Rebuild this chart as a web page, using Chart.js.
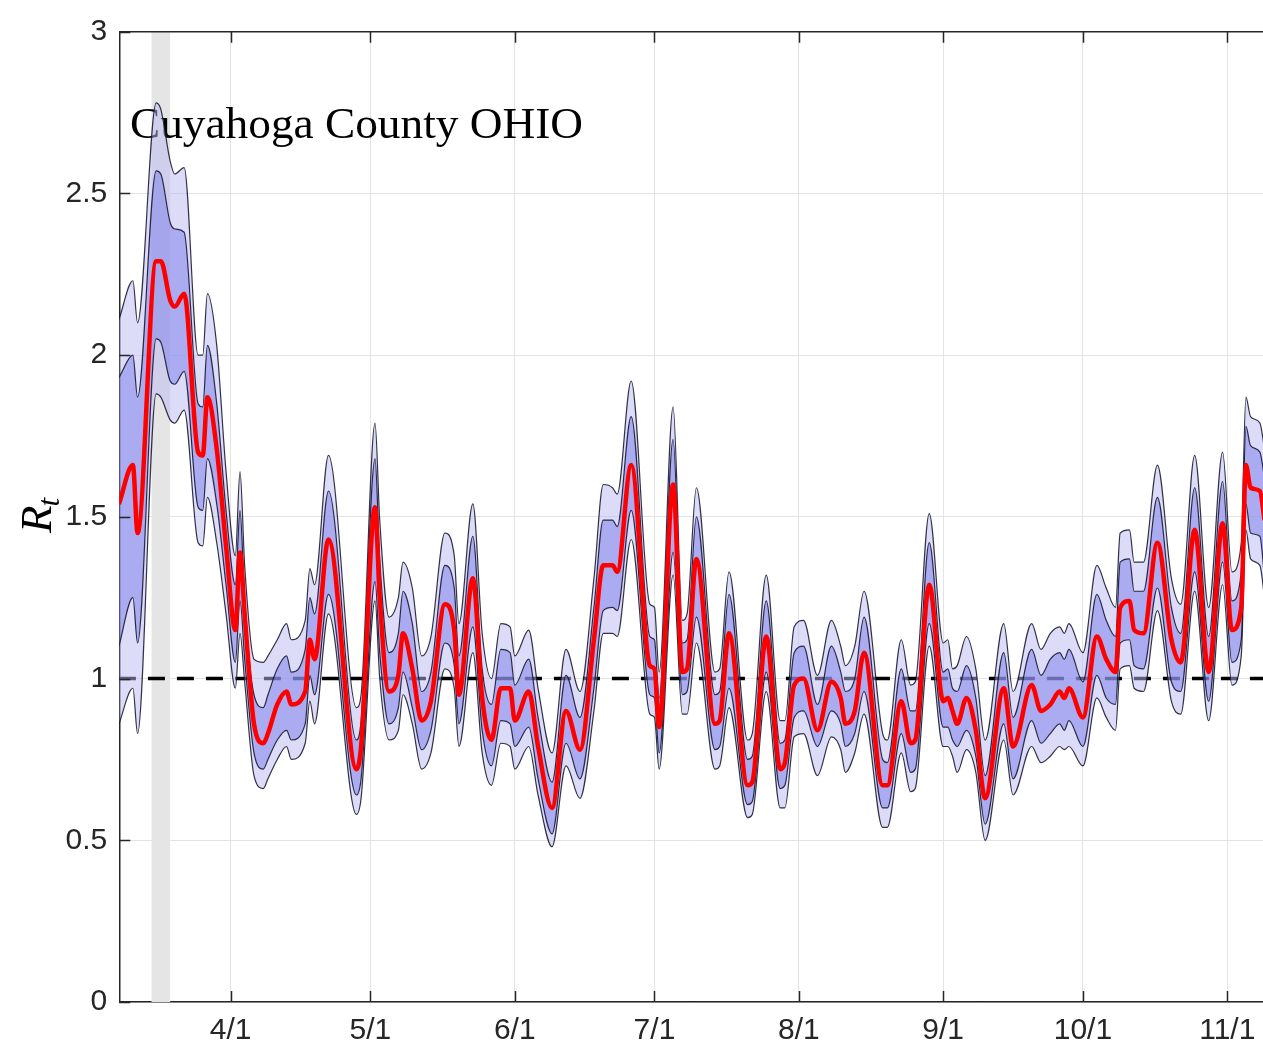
<!DOCTYPE html>
<html>
<head>
<meta charset="utf-8">
<script src="https://cdn.jsdelivr.net/npm/chart.js@4.4.0/dist/chart.umd.min.js"></script>
<style>
  html, body { margin: 0; padding: 0; background: #ffffff; }
  #wrap { width: 1263px; height: 1048px; }
</style>
</head>
<body>
<div id="wrap"><canvas id="rt" width="1263" height="1048"></canvas></div>
<script>
// Rt estimate, Cuyahoga County (2020)
var dates = [
  "3/8", "3/11", "3/12", "3/16", "3/17", "3/19", "3/20", "3/22", "3/25", "3/26", "3/27", "3/29", "3/31",
  "4/2", "4/3", "4/4", "4/6", "4/8", "4/9", "4/11", "4/13", "4/14", "4/17", "4/18", "4/19", "4/22", "4/28", "4/29",
  "5/2", "5/3", "5/5", "5/7", "5/8", "5/10", "5/12", "5/14", "5/17", "5/19", "5/20", "5/23", "5/25", "5/27", "5/29", "5/31",
  "6/1", "6/4", "6/6", "6/9", "6/12", "6/15", "6/18", "6/20", "6/22", "6/23", "6/26", "6/30",
  "7/1", "7/2", "7/5", "7/7", "7/8", "7/10", "7/14", "7/15", "7/17", "7/21", "7/22", "7/25", "7/28", "7/29", "7/31",
  "8/2", "8/5", "8/8", "8/10", "8/11", "8/13", "8/15", "8/19", "8/20", "8/23", "8/25", "8/26", "8/29",
  "9/1", "9/2", "9/3", "9/4", "9/6", "9/8", "9/10", "9/14", "9/16", "9/20", "9/22", "9/24", "9/26", "9/27", "9/28",
  "10/1", "10/4", "10/6", "10/8", "10/9", "10/11", "10/12", "10/14", "10/17", "10/20", "10/22", "10/25", "10/28", "10/31",
  "11/2", "11/4", "11/5", "11/6", "11/8", "11/9"
];

var rtMedian = [
  1.54, 1.66, 1.45, 2.29, 2.29, 2.17, 2.15, 2.19, 1.70, 1.69, 1.87, 1.71, 1.41,
  1.15, 1.39, 1.20, 0.86, 0.80, 0.83, 0.92, 0.96, 0.92, 0.96, 1.12, 1.06, 1.43, 0.72, 0.79,
  1.53, 1.25, 0.96, 1.01, 1.14, 1.03, 0.87, 0.93, 1.23, 1.15, 0.95, 1.31, 0.94, 0.81, 0.97, 0.97,
  0.87, 0.96, 0.79, 0.60, 0.90, 0.78, 1.12, 1.35, 1.35, 1.33, 1.66, 1.04,
  1.03, 0.85, 1.60, 1.02, 1.03, 1.37, 0.86, 0.87, 1.14, 0.67, 0.68, 1.13, 0.72, 0.74, 0.98,
  1.00, 0.84, 0.99, 0.94, 0.86, 0.90, 1.08, 0.67, 0.67, 0.93, 0.80, 0.81, 1.29,
  0.93, 0.94, 0.90, 0.86, 0.94, 0.84, 0.63, 0.97, 0.79, 0.98, 0.90, 0.92, 0.96, 0.94, 0.97,
  0.88, 1.13, 1.06, 1.02, 1.22, 1.24, 1.15, 1.14, 1.42, 1.12, 1.05, 1.46, 1.02, 1.48,
  1.15, 1.22, 1.66, 1.59, 1.58, 1.49
];

var rtHigh95 = [
  2.11, 2.23, 2.10, 2.78, 2.76, 2.60, 2.56, 2.58, 2.00, 2.00, 2.19, 2.03, 1.64,
  1.38, 1.64, 1.35, 1.06, 1.05, 1.07, 1.12, 1.17, 1.12, 1.18, 1.34, 1.29, 1.69, 0.91, 0.95,
  1.79, 1.49, 1.19, 1.25, 1.36, 1.28, 1.07, 1.13, 1.45, 1.38, 1.17, 1.54, 1.14, 1.00, 1.17, 1.16,
  1.07, 1.15, 0.97, 0.77, 1.09, 0.96, 1.31, 1.60, 1.59, 1.57, 1.92, 1.23,
  1.22, 1.02, 1.84, 1.18, 1.20, 1.59, 1.02, 1.03, 1.33, 0.81, 0.83, 1.32, 0.87, 0.87, 1.16,
  1.18, 1.01, 1.18, 1.10, 1.04, 1.10, 1.27, 0.83, 0.81, 1.12, 0.98, 0.99, 1.51,
  1.11, 1.12, 1.03, 1.04, 1.13, 1.03, 0.81, 1.17, 0.96, 1.17, 1.09, 1.14, 1.16, 1.14, 1.17,
  1.08, 1.35, 1.28, 1.22, 1.45, 1.46, 1.36, 1.36, 1.66, 1.31, 1.23, 1.69, 1.22, 1.70,
  1.33, 1.42, 1.87, 1.81, 1.79, 1.71
];

var rtHigh50 = [
  1.93, 2.00, 1.87, 2.57, 2.56, 2.41, 2.39, 2.38, 1.85, 1.84, 2.03, 1.85, 1.52,
  1.29, 1.52, 1.24, 0.95, 0.91, 0.95, 1.03, 1.07, 1.02, 1.09, 1.25, 1.20, 1.58, 0.81, 0.87,
  1.68, 1.37, 1.08, 1.14, 1.27, 1.17, 0.96, 1.02, 1.35, 1.28, 1.07, 1.44, 1.03, 0.92, 1.09, 1.08,
  0.98, 1.06, 0.88, 0.68, 1.01, 0.88, 1.22, 1.49, 1.49, 1.47, 1.81, 1.13,
  1.12, 0.94, 1.74, 1.11, 1.12, 1.50, 0.95, 0.96, 1.26, 0.75, 0.76, 1.24, 0.80, 0.81, 1.08,
  1.10, 0.92, 1.10, 1.02, 0.96, 1.00, 1.19, 0.75, 0.74, 1.03, 0.90, 0.90, 1.42,
  1.02, 1.03, 0.97, 0.96, 1.04, 0.94, 0.70, 1.08, 0.88, 1.09, 1.01, 1.06, 1.08, 1.06, 1.09,
  0.99, 1.26, 1.18, 1.13, 1.36, 1.37, 1.27, 1.27, 1.56, 1.22, 1.14, 1.59, 1.13, 1.61,
  1.24, 1.33, 1.78, 1.72, 1.70, 1.62
];

var rtLow50 = [
  1.10, 1.25, 1.11, 2.05, 2.04, 1.92, 1.91, 1.95, 1.53, 1.52, 1.68, 1.54, 1.29,
  1.05, 1.24, 1.06, 0.77, 0.72, 0.75, 0.81, 0.84, 0.81, 0.86, 1.01, 0.95, 1.26, 0.64, 0.69,
  1.30, 1.08, 0.86, 0.91, 1.02, 0.91, 0.78, 0.84, 1.11, 1.04, 0.86, 1.16, 0.84, 0.73, 0.87, 0.86,
  0.79, 0.85, 0.69, 0.52, 0.80, 0.69, 0.97, 1.21, 1.22, 1.21, 1.52, 0.95,
  0.94, 0.77, 1.39, 0.95, 0.96, 1.19, 0.78, 0.79, 0.97, 0.61, 0.62, 1.02, 0.66, 0.67, 0.88,
  0.90, 0.79, 0.90, 0.86, 0.79, 0.83, 0.96, 0.60, 0.60, 0.83, 0.71, 0.72, 1.17,
  0.85, 0.85, 0.81, 0.79, 0.84, 0.76, 0.55, 0.86, 0.69, 0.87, 0.80, 0.83, 0.86, 0.84, 0.87,
  0.79, 1.01, 0.94, 0.92, 1.11, 1.12, 1.04, 1.03, 1.28, 0.99, 0.96, 1.33, 0.93, 1.36,
  1.05, 1.12, 1.54, 1.45, 1.44, 1.31
];

var rtLow95 = [
  0.86, 0.97, 0.83, 1.88, 1.87, 1.80, 1.79, 1.83, 1.42, 1.41, 1.56, 1.42, 1.20,
  0.97, 1.14, 0.99, 0.70, 0.66, 0.69, 0.75, 0.79, 0.75, 0.80, 0.93, 0.86, 1.20, 0.58, 0.63,
  1.24, 1.00, 0.81, 0.84, 0.95, 0.86, 0.72, 0.77, 1.03, 0.97, 0.79, 1.08, 0.77, 0.67, 0.80, 0.79,
  0.72, 0.79, 0.64, 0.48, 0.73, 0.63, 0.90, 1.14, 1.14, 1.13, 1.43, 0.89,
  0.88, 0.72, 1.32, 0.89, 0.89, 1.11, 0.72, 0.73, 0.91, 0.57, 0.58, 0.96, 0.60, 0.60, 0.82,
  0.83, 0.70, 0.82, 0.78, 0.71, 0.77, 0.89, 0.54, 0.54, 0.77, 0.65, 0.66, 1.10,
  0.79, 0.79, 0.76, 0.71, 0.78, 0.71, 0.50, 0.81, 0.64, 0.79, 0.74, 0.76, 0.79, 0.78, 0.79,
  0.73, 0.94, 0.88, 0.84, 1.03, 1.04, 0.97, 0.96, 1.21, 0.93, 0.89, 1.27, 0.87, 1.29,
  0.98, 1.07, 1.46, 1.37, 1.35, 1.25
];

var refLevel = 1;
var shadeRange = ["3/15", "3/19"];
var xTickDates = ["4/1", "5/1", "6/1", "7/1", "8/1", "9/1", "10/1", "11/1"];
var yTicks = [0, 0.5, 1, 1.5, 2, 2.5, 3];
var yTickLabels = ["0", "0.5", "1", "1.5", "2", "2.5", "3"];
var title = "Cuyahoga County OHIO";

// day of year in 2020 (leap year)
var monthStart = [0, 31, 60, 91, 121, 152, 182, 213, 244, 274, 305, 335];
function dayOfYear(md) {
  var p = md.split("/");
  return monthStart[+p[0] - 1] + (+p[1]);
}

var xs = dates.map(dayOfYear);
var xTickDays = xTickDates.map(dayOfYear);
function pts(vals) {
  return vals.map(function (v, i) { return { x: xs[i], y: v }; });
}

var axisColor = "#262626";
var gridColor = "#e3e3e3";
var edgeColor = "rgba(15,15,40,0.85)";
var tickFont = { family: "'Liberation Sans', Arial, Helvetica, sans-serif", size: 30 };
var serif = "'Liberation Serif', 'Times New Roman', serif";

var decorations = {
  id: "decorations",
  beforeDatasetsDraw: function (chart) {
    var ctx = chart.ctx, a = chart.chartArea, sx = chart.scales.x;
    ctx.save();
    // grey vertical band
    var x0 = sx.getPixelForValue(dayOfYear(shadeRange[0]));
    var x1 = sx.getPixelForValue(dayOfYear(shadeRange[1]));
    ctx.fillStyle = "#e5e5e5";
    ctx.fillRect(x0, a.top, x1 - x0, a.bottom - a.top);
    // county label, fitted to the width it has in the figure
    var size = 44;
    ctx.font = size + "px " + serif;
    var w = ctx.measureText(title).width;
    size = size * 453 / w;
    ctx.font = size.toFixed(1) + "px " + serif;
    ctx.fillStyle = "#000000";
    ctx.textBaseline = "alphabetic";
    ctx.fillText(title, 130, 138);
    ctx.restore();
  },
  afterDraw: function (chart) {
    var ctx = chart.ctx, a = chart.chartArea, sx = chart.scales.x, sy = chart.scales.y;
    ctx.save();
    ctx.strokeStyle = axisColor;
    ctx.lineWidth = 1.5;
    ctx.beginPath();
    // top border
    ctx.moveTo(a.left, a.top);
    ctx.lineTo(a.right, a.top);
    // inward ticks
    xTickDays.forEach(function (d) {
      var px = Math.round(sx.getPixelForValue(d)) + 0.5;
      ctx.moveTo(px, a.bottom);
      ctx.lineTo(px, a.bottom - 11);
      ctx.moveTo(px, a.top);
      ctx.lineTo(px, a.top + 11);
    });
    yTicks.forEach(function (v) {
      var py = Math.round(sy.getPixelForValue(v)) + 0.5;
      ctx.moveTo(a.left, py);
      ctx.lineTo(a.left + 11, py);
    });
    ctx.stroke();
    // y axis title R_t
    ctx.translate(51, (a.top + a.bottom) / 2 - 2);
    ctx.rotate(-Math.PI / 2);
    ctx.fillStyle = "#000000";
    ctx.font = "italic 45px " + serif;
    var wr = ctx.measureText("R").width;
    ctx.font = "italic 31px " + serif;
    var wt = ctx.measureText("t").width;
    var start = -(wr + wt) / 2;
    ctx.font = "italic 45px " + serif;
    ctx.fillText("R", start, 0);
    ctx.font = "italic 31px " + serif;
    ctx.fillText("t", start + wr - 1, 8);
    ctx.restore();
  }
};

function band(label, vals, order, fillTo, fillColor) {
  return {
    label: label,
    data: pts(vals),
    borderColor: edgeColor,
    borderWidth: 1.2,
    pointRadius: 0,
    cubicInterpolationMode: "monotone",
    fill: fillTo === null ? false : fillTo,
    backgroundColor: fillColor || "transparent",
    order: order,
  };
}

var ctx = document.getElementById("rt").getContext("2d");
var rtChart = new Chart(ctx, {
  type: "line",
  data: {
    datasets: [
      {
        label: "median",
        data: pts(rtMedian),
        borderColor: "#ff0000",
        borderWidth: 4.5,
        pointRadius: 0,
        cubicInterpolationMode: "monotone",
        fill: false,
        order: 0,
      },
      band("50% upper", rtHigh50, 2, 2, "rgba(124,124,236,0.5)"),
      band("50% lower", rtLow50, 1, null),
      band("95% upper", rtHigh95, 4, 4, "rgba(185,185,241,0.5)"),
      band("95% lower", rtLow95, 3, null),
      {
        label: "Rt = 1",
        data: [{ x: xs[0], y: refLevel }, { x: xs[xs.length - 1], y: refLevel }],
        borderColor: "#000000",
        borderWidth: 3.5,
        borderDash: [17, 12],
        pointRadius: 0,
        fill: false,
        order: 5,
      },
    ],
  },
  options: {
    responsive: false,
    animation: false,
    layout: { padding: { top: 31.7, right: 0, left: 0, bottom: 0 } },
    plugins: {
      legend: { display: false },
      tooltip: { enabled: false },
    },
    scales: {
      x: {
        type: "linear",
        min: 68.08,
        max: 313.67,
        afterBuildTicks: function (s) {
          s.ticks = xTickDays.map(function (v) { return { value: v }; });
        },
        afterFit: function (s) {
          s.height = 46;
          // plot runs to the right edge of the figure
          s.paddingLeft = 0;
          s.paddingRight = 0;
        },
        ticks: {
          autoSkip: false,
          maxRotation: 0,
          padding: 11,
          color: axisColor,
          font: tickFont,
          callback: function (v) { return xTickDates[xTickDays.indexOf(v)]; },
        },
        grid: { color: gridColor, lineWidth: 1, drawTicks: false },
        border: { color: axisColor, width: 1.5 },
      },
      y: {
        min: 0,
        max: 3,
        afterBuildTicks: function (s) {
          s.ticks = yTicks.map(function (v) { return { value: v }; });
        },
        afterFit: function (s) { s.width = 119.3; },
        ticks: {
          padding: 12,
          color: axisColor,
          font: tickFont,
          callback: function (v) { return yTickLabels[yTicks.indexOf(v)]; },
        },
        grid: { color: gridColor, lineWidth: 1, drawTicks: false },
        border: { color: axisColor, width: 1.5 },
      },
    },
  },
  plugins: [decorations],
});
</script>
</body>
</html>
